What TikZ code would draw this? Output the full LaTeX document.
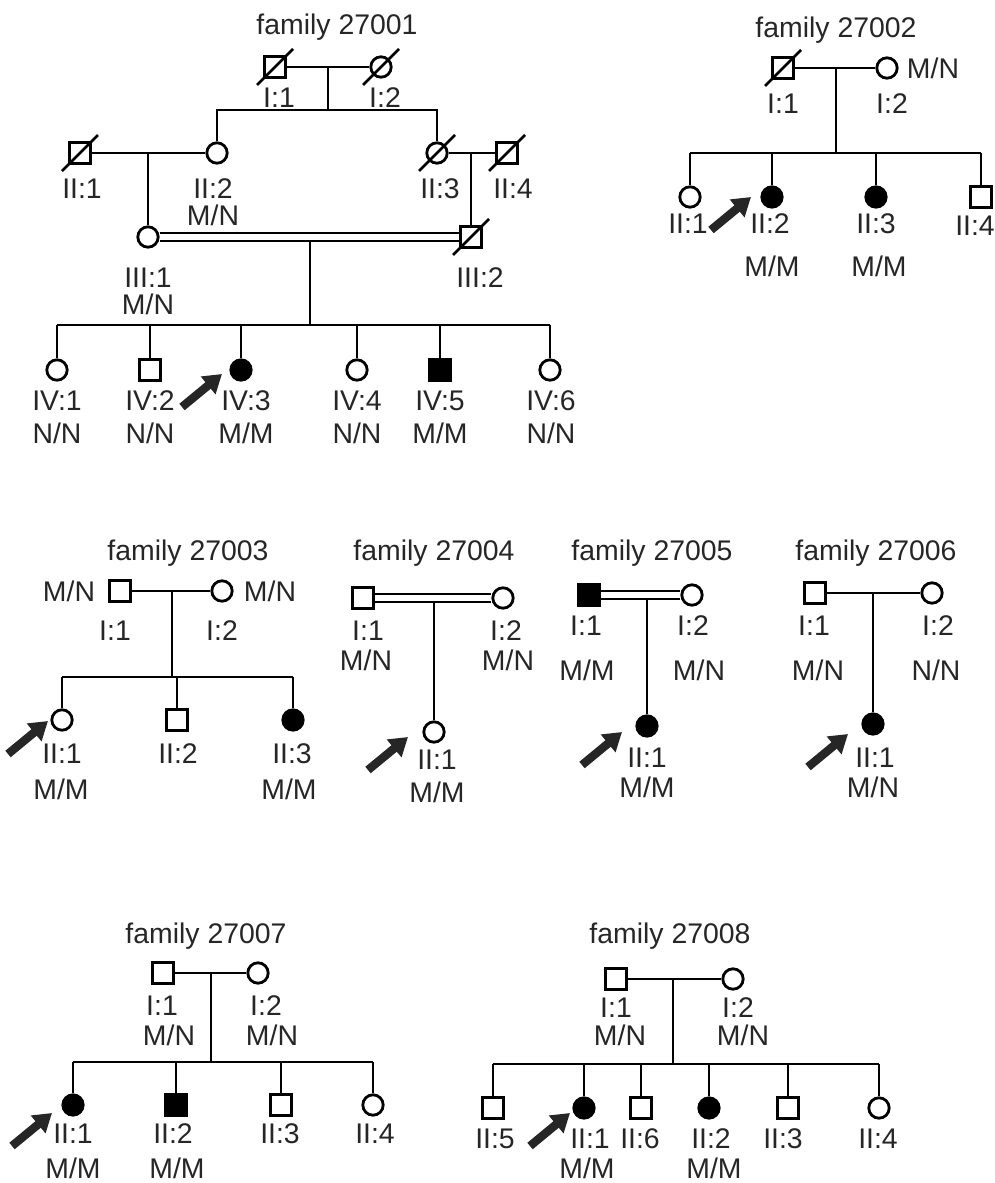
\documentclass[tikz,border=0pt]{standalone}
\usepackage{fontspec}
\setmainfont{Liberation Sans}
\usetikzlibrary{arrows.meta}

\begin{document}
\begin{tikzpicture}[x=0.5pt, y=-0.5pt, line width=1.4pt,
	every node/.style={font=\fontsize{14.2}{17}\selectfont, text=black!85},
	male/.style={draw=black, rectangle, minimum size=10.4pt, inner sep=0pt},
	female/.style={draw=black, circle, minimum size=10.2pt, inner sep=0pt},
	aff/.style={fill=black},
	lbl/.style={inner sep=0pt, text height=10.2pt, text depth=0pt},
	cons/.style={double, double distance=2.6pt, line width=1.2pt},
	proband/.style={-{Triangle[length=9pt, width=11pt]}, line width=4.2pt, black!85}]
	\useasboundingbox (0,0) rectangle (995,1183);

	% family 27001
	\node[lbl] (t1) at (337,24) {family 27001};
	\node[male] (f1-11) at (275,67) {};
	\node[female] (f1-12) at (381,67) {};
	\node[male] (f1-21) at (80,153) {};
	\node[female] (f1-22) at (217,153) {};
	\node[female] (f1-23) at (437,153) {};
	\node[male] (f1-24) at (507,153) {};
	\node[female] (f1-31) at (148,237) {};
	\node[male] (f1-32) at (471,237) {};
	\node[female] (f1-41) at (57,370) {};
	\node[male] (f1-42) at (150,370) {};
	\node[female, aff] (f1-43) at (241,370) {};
	\node[female] (f1-44) at (357,370) {};
	\node[male, aff] (f1-45) at (440,370) {};
	\node[female] (f1-46) at (550,370) {};
	\foreach \n/\x/\y/\t in {11/279/97/I:1, 12/385/97/I:2, 21/82/188/II:1, 22/213/188/II:2, 23/440/188/II:3, 24/513/188/II:4, 31/148/277/III:1, 32/480/277/III:2, 41/57/400/IV:1, 42/150/400/IV:2, 43/246/400/IV:3, 44/357/400/IV:4, 45/440/400/IV:5, 46/551/400/IV:6}
		\node[lbl] (f1-\n-id) at (\x,\y) {\t};
	\foreach \n/\x/\y/\t in {22/213/215/{M/N}, 31/148/304/{M/N}, 41/57/433/{N/N}, 42/150/433/{N/N}, 43/246/433/{M/M}, 44/357/433/{N/N}, 45/440/433/{M/M}, 46/551/433/{N/N}}
		\node[lbl] (f1-\n-gt) at (\x,\y) {\t};
	\draw (f1-11) -- (f1-12);
	\coordinate (f1-m1) at (328,67);
	\coordinate (f1-s1) at (328,110);
	\draw (f1-m1) -- (f1-s1);
	\draw (f1-22) -- (f1-22 |- f1-s1) -- (f1-23 |- f1-s1) -- (f1-23);
	\draw (f1-21) -- (f1-22);
	\coordinate (f1-m2) at (148,153);
	\draw (f1-m2) -- (f1-31);
	\draw (f1-23) -- (f1-24);
	\coordinate (f1-m3) at (471,153);
	\draw (f1-m3) -- (f1-32);
	\coordinate (f1-m4) at (310,241);
	\coordinate (f1-s4) at (310,325);
	\draw (f1-m4) -- (f1-s4);
	\draw[cons] (f1-31) -- (f1-32);
	\draw (f1-41 |- f1-s4) -- (f1-46 |- f1-s4);
	\foreach \n in {f1-41,f1-42,f1-43,f1-44,f1-45,f1-46} \draw (\n |- f1-s4) -- (\n);

	% family 27002
	\node[lbl] (t2) at (836,27) {family 27002};
	\node[male] (f2-11) at (783,68) {};
	\node[female] (f2-12) at (887,68) {};
	\node[female] (f2-21) at (690,197) {};
	\node[female, aff] (f2-22) at (772,197) {};
	\node[female, aff] (f2-23) at (876,197) {};
	\node[male] (f2-24) at (981,197) {};
	\foreach \n/\x/\y/\t in {11/783/103/I:1, 12/892/103/I:2, 21/688/223/II:1, 22/770/223/II:2, 23/876/223/II:3, 24/975/225/II:4}
		\node[lbl] (f2-\n-id) at (\x,\y) {\t};
	\foreach \n/\x/\y/\t in {12/933/68/{M/N}, 22/772/266/{M/M}, 23/879/266/{M/M}}
		\node[lbl] (f2-\n-gt) at (\x,\y) {\t};
	\draw (f2-11) -- (f2-12);
	\coordinate (f2-m) at (836,68);
	\coordinate (f2-s) at (836,153);
	\draw (f2-m) -- (f2-s);
	\draw (f2-21 |- f2-s) -- (f2-24 |- f2-s);
	\foreach \n in {f2-21,f2-22,f2-23,f2-24} \draw (\n |- f2-s) -- (\n);

	% family 27003
	\node[lbl] (t3) at (188,550) {family 27003};
	\node[male] (f3-11) at (120,591) {};
	\node[female] (f3-12) at (222,591) {};
	\node[female] (f3-21) at (62,720) {};
	\node[male] (f3-22) at (177,720) {};
	\node[female, aff] (f3-23) at (293,720) {};
	\foreach \n/\x/\y/\t in {11/115/630/I:1, 12/222/630/I:2, 21/62/753/II:1, 22/178/753/II:2, 23/292/753/II:3}
		\node[lbl] (f3-\n-id) at (\x,\y) {\t};
	\foreach \n/\x/\y/\t in {11/69/591/{M/N}, 12/270/591/{M/N}, 21/61/789/{M/M}, 23/289/789/{M/M}}
		\node[lbl] (f3-\n-gt) at (\x,\y) {\t};
	\draw (f3-11) -- (f3-12);
	\coordinate (f3-m) at (172,591);
	\coordinate (f3-s) at (172,677);
	\draw (f3-m) -- (f3-s);
	\draw (f3-21 |- f3-s) -- (f3-23 |- f3-s);
	\foreach \n in {f3-21,f3-22,f3-23} \draw (\n |- f3-s) -- (\n);

	% family 27004
	\node[lbl] (t4) at (434,550) {family 27004};
	\node[male] (f4-11) at (363,598) {};
	\node[female] (f4-12) at (503,598) {};
	\node[female] (f4-21) at (434,732) {};
	\foreach \n/\x/\y/\t in {11/368/630/I:1, 12/506/630/I:2, 21/437/759/II:1}
		\node[lbl] (f4-\n-id) at (\x,\y) {\t};
	\foreach \n/\x/\y/\t in {11/366/660/{M/N}, 12/508/660/{M/N}, 21/437/792/{M/M}}
		\node[lbl] (f4-\n-gt) at (\x,\y) {\t};
	\coordinate (f4-m) at (434,602);
	\draw (f4-m) -- (f4-21);
	\draw[cons] (f4-11) -- (f4-12);

	% family 27005
	\node[lbl] (t5) at (652,550) {family 27005};
	\node[male, aff] (f5-11) at (589,595) {};
	\node[female] (f5-12) at (692,595) {};
	\node[female, aff] (f5-21) at (647,726) {};
	\foreach \n/\x/\y/\t in {11/586/625/I:1, 12/693/625/I:2, 21/647/757/II:1}
		\node[lbl] (f5-\n-id) at (\x,\y) {\t};
	\foreach \n/\x/\y/\t in {11/587/670/{M/M}, 12/699/670/{M/N}, 21/647/787/{M/M}}
		\node[lbl] (f5-\n-gt) at (\x,\y) {\t};
	\coordinate (f5-m) at (647,599);
	\draw (f5-m) -- (f5-21);
	\draw[cons] (f5-11) -- (f5-12);

	% family 27006
	\node[lbl] (t6) at (876,550) {family 27006};
	\node[male] (f6-11) at (815,593) {};
	\node[female] (f6-12) at (932,593) {};
	\node[female, aff] (f6-21) at (873,724) {};
	\foreach \n/\x/\y/\t in {11/814/625/I:1, 12/938/625/I:2, 21/875/757/II:1}
		\node[lbl] (f6-\n-id) at (\x,\y) {\t};
	\foreach \n/\x/\y/\t in {11/818/670/{M/N}, 12/936/670/{N/N}, 21/873/787/{M/N}}
		\node[lbl] (f6-\n-gt) at (\x,\y) {\t};
	\draw (f6-11) -- (f6-12);
	\coordinate (f6-m) at (873,593);
	\draw (f6-m) -- (f6-21);

	% family 27007
	\node[lbl] (t7) at (206,933) {family 27007};
	\node[male] (f7-11) at (163,973) {};
	\node[female] (f7-12) at (258,973) {};
	\node[female, aff] (f7-21) at (73,1105) {};
	\node[male, aff] (f7-22) at (176,1105) {};
	\node[male] (f7-23) at (281,1105) {};
	\node[female] (f7-24) at (373,1105) {};
	\foreach \n/\x/\y/\t in {11/162/1005/I:1, 12/266/1005/I:2, 21/73/1133/II:1, 22/173/1133/II:2, 23/280/1133/II:3, 24/375/1133/II:4}
		\node[lbl] (f7-\n-id) at (\x,\y) {\t};
	\foreach \n/\x/\y/\t in {11/169/1035/{M/N}, 12/272/1035/{M/N}, 21/73/1168/{M/M}, 22/177/1168/{M/M}}
		\node[lbl] (f7-\n-gt) at (\x,\y) {\t};
	\draw (f7-11) -- (f7-12);
	\coordinate (f7-m) at (211,973);
	\coordinate (f7-s) at (211,1062);
	\draw (f7-m) -- (f7-s);
	\draw (f7-21 |- f7-s) -- (f7-24 |- f7-s);
	\foreach \n in {f7-21,f7-22,f7-23,f7-24} \draw (\n |- f7-s) -- (\n);

	% family 27008
	\node[lbl] (t8) at (670,933) {family 27008};
	\node[male] (f8-11) at (616,979) {};
	\node[female] (f8-12) at (733,979) {};
	\node[male] (f8-25) at (493,1108) {};
	\node[female, aff] (f8-21) at (584,1108) {};
	\node[male] (f8-26) at (641,1108) {};
	\node[female, aff] (f8-22) at (709,1108) {};
	\node[male] (f8-23) at (788,1108) {};
	\node[female] (f8-24) at (879,1108) {};
	\foreach \n/\x/\y/\t in {11/616/1007/I:1, 12/738/1007/I:2, 25/495/1138/II:5, 21/590/1138/II:1, 26/640/1138/II:6, 22/711/1138/II:2, 23/783/1138/II:3, 24/878/1138/II:4}
		\node[lbl] (f8-\n-id) at (\x,\y) {\t};
	\foreach \n/\x/\y/\t in {11/620/1035/{M/N}, 12/743/1035/{M/N}, 21/587/1168/{M/M}, 22/714/1168/{M/M}}
		\node[lbl] (f8-\n-gt) at (\x,\y) {\t};
	\draw (f8-11) -- (f8-12);
	\coordinate (f8-m) at (673,979);
	\coordinate (f8-s) at (673,1064);
	\draw (f8-m) -- (f8-s);
	\draw (f8-25 |- f8-s) -- (f8-24 |- f8-s);
	\foreach \n in {f8-25,f8-21,f8-26,f8-22,f8-23,f8-24} \draw (\n |- f8-s) -- (\n);

	% deceased
	\foreach \n in {f1-11,f1-12,f1-21,f1-23,f1-24,f1-32,f2-11}
		\draw ([shift={(-18,18)}]\n.center) -- ([shift={(18,-18)}]\n.center);

	% probands
	\foreach \n/\hx/\hy in {f1-43/-19/4, f2-22/-21/0, f3-21/-14/1, f4-21/-26/5, f5-21/-25/6, f6-21/-25/10, f7-21/-21/8, f8-21/-14/5}
		\draw[proband] ([shift={(\hx-40,\hy+33)}]\n.center) -- ([shift={(\hx,\hy)}]\n.center);
\end{tikzpicture}
\end{document}
